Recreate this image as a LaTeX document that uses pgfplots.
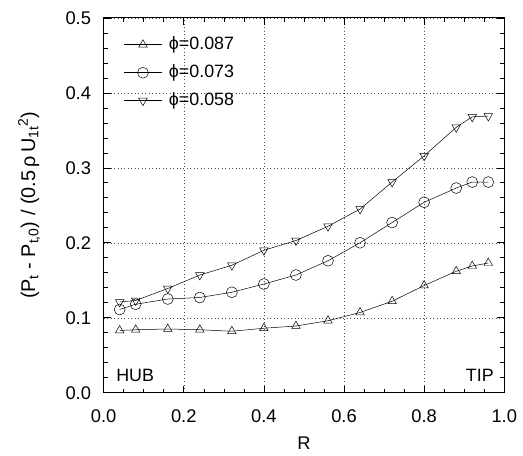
\documentclass[border=0pt]{standalone}
\usepackage{pgfplots}
\pgfplotsset{compat=1.18}
\usepackage{fontspec}
\setmainfont{Liberation Sans}
\begin{document}
\fontsize{18bp}{21bp}\selectfont
\begin{tikzpicture}
\begin{axis}[
  scale only axis,
  width=404bp, height=378bp,
  xmin=0, xmax=1, ymin=0, ymax=0.5,
  xtick={0,0.2,...,1.0}, ytick={0,0.1,...,0.5},
  minor x tick num=3, minor y tick num=4,
  tick align=inside, tickpos=both,
  major tick length=7bp, minor tick length=4bp,
  every tick/.style={black, line width=0.6bp},
  axis line style={line width=1bp},
  grid=major,
  major grid style={black!70, line width=0.5bp, dash pattern=on 1bp off 2.5bp},
  /pgf/number format/assume math mode=true,
  /pgf/number format/fixed, /pgf/number format/fixed zerofill, /pgf/number format/precision=1,
  xticklabel style={font=\fontsize{18.5bp}{21bp}\selectfont, anchor=base, yshift=-30bp},
  yticklabel style={font=\fontsize{18.5bp}{21bp}\selectfont, xshift=-6.5bp},
  xlabel={R},
  ylabel={(P\textsubscript{t} - P\textsubscript{t,0}) / (0.5\,ρ\,U\textsubscript{1t}\textsuperscript{2})},
  every axis x label/.style={at={(rel axis cs:0.5,0)}, anchor=base, yshift=-57bp, font=\fontsize{18.5bp}{21bp}\selectfont},
  every axis y label/.style={at={(rel axis cs:0,0.5)}, xshift=-69bp, rotate=90, anchor=base, font=\fontsize{20bp}{24bp}\selectfont},
  legend style={at={(0.05,0.955)}, anchor=north west, draw=none, fill=none,
    font=\fontsize{18bp}{21bp}\selectfont, row sep=8.5bp, column sep=5bp, inner sep=0pt},
  legend cell align=left,
  legend image code/.code={\draw[#1, mark repeat=2, mark phase=2] plot coordinates {(0bp,0bp) (19bp,0bp) (38bp,0bp)};},
]
\addplot[black, line width=0.5bp, mark=triangle, mark size=5bp, mark options={fill=white, line width=0.5bp}] coordinates {
(0.04,0.083) (0.08,0.084) (0.16,0.085) (0.24,0.084) (0.32,0.082) (0.40,0.086) (0.48,0.089)
(0.56,0.096) (0.64,0.107) (0.72,0.122) (0.80,0.143) (0.88,0.162) (0.92,0.169) (0.96,0.173)};
\addlegendentry{ϕ=0.087}
\addplot[black, line width=0.5bp, mark=o, mark size=5.5bp, mark options={fill=white, line width=0.5bp}] coordinates {
(0.04,0.111) (0.08,0.118) (0.16,0.125) (0.24,0.127) (0.32,0.134) (0.40,0.145) (0.48,0.157)
(0.56,0.176) (0.64,0.200) (0.72,0.227) (0.80,0.254) (0.88,0.273) (0.92,0.281) (0.96,0.281)};
\addlegendentry{ϕ=0.073}
\addplot[black, line width=0.5bp, mark=triangle, mark size=5bp, mark options={rotate=180, fill=white, line width=0.5bp}] coordinates {
(0.04,0.121) (0.08,0.123) (0.16,0.139) (0.24,0.157) (0.32,0.170) (0.40,0.190) (0.48,0.203)
(0.56,0.222) (0.64,0.245) (0.72,0.281) (0.80,0.316) (0.88,0.354) (0.92,0.368) (0.96,0.369)};
\addlegendentry{ϕ=0.058}
\node[anchor=base west, font=\fontsize{18bp}{21bp}\selectfont, inner sep=0pt] at (axis cs:0.031,0.0146) {HUB};
\node[anchor=base east, font=\fontsize{18bp}{21bp}\selectfont, inner sep=0pt] at (axis cs:0.974,0.0146) {TIP};
\end{axis}
\path[use as bounding box] ([shift={(-104.5bp,-62bp)}]current axis.south west) rectangle ([shift={(14.5bp,18bp)}]current axis.north east);
\end{tikzpicture}
\end{document}
